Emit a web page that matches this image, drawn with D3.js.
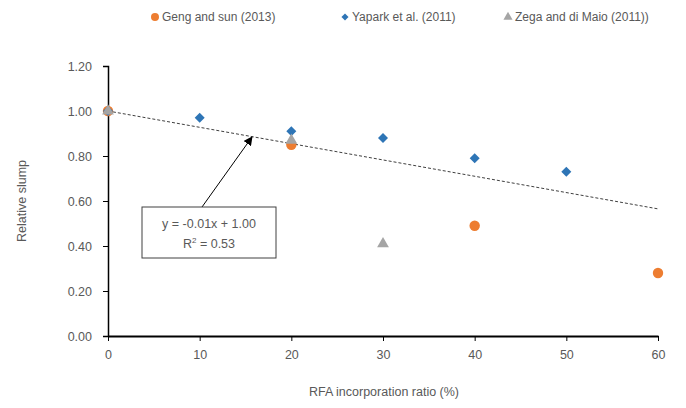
<!DOCTYPE html>
<html><head><meta charset="utf-8">
<script src="https://cdn.jsdelivr.net/npm/d3@7"></script>
<style>body{margin:0;background:#fff}svg{display:block}text{font-family:"Liberation Sans",Arial,sans-serif;fill:#595959}</style>
</head><body>
<svg id="c" width="686" height="408"></svg>
<script>
const gengX = [0, 20, 40, 60];
const gengY = [1.00, 0.85, 0.49, 0.28];
const yaparkX = [0, 10, 20, 30, 40, 50];
const yaparkY = [1.00, 0.97, 0.91, 0.88, 0.79, 0.73];
const zegaX = [0, 20, 30];
const zegaY = [1.00, 0.87, 0.41];
const seriesNames = ["Geng and sun (2013)", "Yapark et al. (2011)", "Zega and di Maio (2011))"];
const xTicks = [0, 10, 20, 30, 40, 50, 60];
const yTicks = [0, 0.2, 0.4, 0.6, 0.8, 1.0, 1.2];
const trendIntercept = 1.00;
const trendSlope = -0.00725;
const trendX = [0, 60];

const svg = d3.select("#c");
const x = d3.scaleLinear().domain([0, 60]).range([108, 658]);
const y = d3.scaleLinear().domain([0, 1.2]).range([336, 66]);

// y axis
const ya = svg.append("g").attr("transform", "translate(108,0)")
  .call(d3.axisLeft(y).tickValues(yTicks).tickSize(5).tickFormat(d3.format(".2f")));
ya.select(".domain").attr("stroke", "#000").attr("stroke-width", 1.5);
ya.selectAll(".tick line").attr("stroke", "#000");
ya.selectAll(".tick text").attr("x", -16).style("font-size", "12.5px").attr("fill", "#595959");

// x axis
const xa = svg.append("g").attr("transform", "translate(0,336)")
  .call(d3.axisBottom(x).tickValues(xTicks).tickSize(5).tickSizeOuter(0));
xa.select(".domain").attr("stroke", "#000").attr("stroke-width", 2);
xa.selectAll(".tick line").attr("stroke", "#000");
xa.selectAll(".tick text").attr("y", 14).style("font-size", "12.5px").attr("fill", "#595959");

// titles
svg.append("text").attr("x", 384).attr("y", 396).attr("text-anchor", "middle").style("font-size", "12.5px").text("RFA incorporation ratio (%)");
svg.append("text").attr("transform", "translate(26,201) rotate(-90)").attr("text-anchor", "middle").style("font-size", "12.5px").text("Relative slump");

// trendline
svg.append("line")
  .attr("x1", x(trendX[0])).attr("y1", y(trendIntercept + trendSlope * trendX[0]))
  .attr("x2", x(trendX[1])).attr("y2", y(trendIntercept + trendSlope * trendX[1]))
  .attr("stroke", "#404040").attr("stroke-width", 1).attr("stroke-dasharray", "3,2");

// markers
const sym = (type, size) => d3.symbol().type(type).size(size)();
svg.append("g").selectAll("path").data(gengX.map((d, i) => [d, gengY[i]])).join("path")
  .attr("d", sym(d3.symbolCircle, 85)).attr("transform", d => `translate(${x(d[0])},${y(d[1])})`).attr("fill", "#ED7D31");
svg.append("g").selectAll("path").data(yaparkX.map((d, i) => [d, yaparkY[i]])).join("path")
  .attr("d", sym(d3.symbolSquare, 50)).attr("transform", d => `translate(${x(d[0])},${y(d[1])}) rotate(45)`).attr("fill", "#2E75B6");
svg.append("g").selectAll("path").data(zegaX.map((d, i) => [d, zegaY[i]])).join("path")
  .attr("d", sym(d3.symbolTriangle, 60)).attr("transform", d => `translate(${x(d[0])},${y(d[1])})`).attr("fill", "#A5A5A5");

// annotation arrow
const defs = svg.append("defs");
defs.append("marker").attr("id", "ah").attr("viewBox", "0 0 10 10").attr("refX", 9).attr("refY", 5)
  .attr("markerWidth", 9).attr("markerHeight", 9).attr("orient", "auto")
  .append("path").attr("d", "M0,0 L10,5 L0,10 z").attr("fill", "#000");
svg.append("line").attr("x1", 202).attr("y1", 207).attr("x2", 252).attr("y2", 137)
  .attr("stroke", "#000").attr("stroke-width", 1).attr("marker-end", "url(#ah)");
svg.append("rect").attr("x", 142).attr("y", 207).attr("width", 134).attr("height", 51)
  .attr("fill", "#fff").attr("stroke", "#404040").attr("stroke-width", 1);
svg.append("text").attr("x", 209).attr("y", 228).attr("text-anchor", "middle").style("font-size", "12.5px").attr("fill", "#000").text("y = -0.01x + 1.00");
const r2 = svg.append("text").attr("x", 209).attr("y", 248).attr("text-anchor", "middle").style("font-size", "12.5px").attr("fill", "#000");
r2.append("tspan").text("R");
r2.append("tspan").attr("dy", -5).style("font-size", "8px").text("2");
r2.append("tspan").attr("dy", 5).text(" = 0.53");

// legend
const lx = [155, 345, 508];
const shapes = [d3.symbolCircle, d3.symbolSquare, d3.symbolTriangle];
const rots = [0, 45, 0];
const cols = ["#ED7D31", "#2E75B6", "#A5A5A5"];
const sizes = [50, 25, 36];
seriesNames.forEach((n, i) => {
  svg.append("path").attr("d", sym(shapes[i], sizes[i])).attr("transform", `translate(${lx[i]},17) rotate(${rots[i]})`).attr("fill", cols[i]);
  svg.append("text").attr("x", lx[i] + 7).attr("y", 21).style("font-size", "12px").text(n);
});
</script>
</body></html>
